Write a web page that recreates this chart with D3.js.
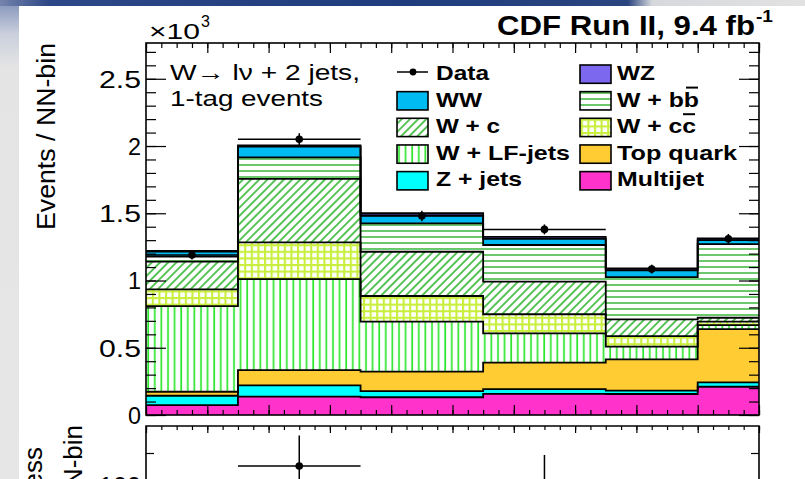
<!DOCTYPE html>
<html><head><meta charset="utf-8">
<script src="https://cdn.jsdelivr.net/npm/d3@7"></script>
<style>
html,body{margin:0;padding:0;background:#fff;}
svg{display:block;font-family:"Liberation Sans",Arial,Helvetica,sans-serif;}
</style></head>
<body>
<svg id="c" width="805" height="479"></svg>
<script>
// ---------------- DATA ----------------
const binEdges = [0, 0.15, 0.35, 0.55, 0.75, 0.9, 1.0];
// events per NN bin (stack bottom -> top)
const multijet = [74, 136, 132, 157, 156, 210];
const zJets    = [69, 84, 46, 36, 25, 33];
const topQuark = [30, 113, 144, 196, 233, 396];
const wLF      = [637, 678, 372, 218, 94, 30];
const wCC      = [124, 273, 191, 142, 79, 25];
const wC       = [206, 471, 329, 242, 124, 29];
const wBB      = [37, 161, 211, 273, 314, 548];
const wwVals   = [38, 79, 60, 46, 50, 29];
const wzVals   = [5, 10, 15, 15, 15, 14];
const dataVals = [1190, 2050, 1480, 1380, 1085, 1310];
// lower panel (excess)
const excessVals = [20, 130, 30, 70, 10, 40];
const excessErr  = [40, 47, 40, 77, 40, 40];

const yTickValues = [0, 500, 1000, 1500, 2000, 2500];
const yTickLabels = ["0", "0.5", "1", "1.5", "2", "2.5"];

const seriesKeys   = ["multijet","zjets","top","wlf","wcc","wc","wbb","ww","wz"];
const seriesLabels = ["Multijet","Z + jets","Top quark","W + LF-jets","W + cc","W + c","W + bb","WW","WZ"];
const seriesArrays = [multijet, zJets, topQuark, wLF, wCC, wC, wBB, wwVals, wzVals];
const seriesFills  = ["#ff33cc","#00ffff","#ffcc33","url(#pV)","url(#pGrid)","url(#pDiag)","url(#pH)","#00bbf2","#7b68ee"];

// legend layout (column-major)
const legendLeft  = ["Data","WW","W + c","W + LF-jets","Z + jets"];
const legendRight = ["WZ","W + bb","W + cc","Top quark","Multijet"];

// ---------------- SETUP ----------------
const svg = d3.select("#c");
const W = 805, H = 479;
const px0 = 146, px1 = 759, py0 = 43, py1 = 415;

const defs = svg.append("defs");
const gTop = defs.append("linearGradient").attr("id","gTop").attr("x1","0").attr("x2","1").attr("y1","0").attr("y2","0");
[["0","#7584ad"],["0.06","#2d4886"],["0.5","#1f3c7c"],["0.78","#2a4580"],["0.81","#d6d8dc"],["1","#e2e2e2"]]
  .forEach(s=>gTop.append("stop").attr("offset",s[0]).attr("stop-color",s[1]));
const gLeft = defs.append("linearGradient").attr("id","gLeft").attr("x1","0").attr("x2","0").attr("y1","0").attr("y2","1");
[["0","#7f90b9"],["0.07","#c9cfdc"],["0.14","#e4e4e4"],["1","#e6e6e6"]]
  .forEach(s=>gLeft.append("stop").attr("offset",s[0]).attr("stop-color",s[1]));

function pat(id, w, h, transform){
  const p = defs.append("pattern").attr("id",id).attr("patternUnits","userSpaceOnUse")
    .attr("width",w).attr("height",h);
  if (transform) p.attr("patternTransform",transform);
  p.append("rect").attr("width",w).attr("height",h).attr("fill","#fff");
  return p;
}
pat("pH",6,6).append("line").attr("x1",0).attr("x2",6).attr("y1",3).attr("y2",3)
  .attr("stroke","#3cb53c").attr("stroke-width",1.5);
pat("pV",6.6,10).append("line").attr("x1",3).attr("x2",3).attr("y1",0).attr("y2",10)
  .attr("stroke","#2ee62e").attr("stroke-width",1.7);
pat("pDiag",5.8,10,"rotate(45)").append("line").attr("x1",2.9).attr("x2",2.9).attr("y1",0).attr("y2",10)
  .attr("stroke","#30b530").attr("stroke-width",1.6);
const pg = pat("pGrid",6.6,6.6);
pg.append("line").attr("x1",0).attr("x2",6.6).attr("y1",1).attr("y2",1).attr("stroke","#c9ef3e").attr("stroke-width",2.2);
pg.append("line").attr("x1",1).attr("x2",1).attr("y1",0).attr("y2",6.6).attr("stroke","#c9ef3e").attr("stroke-width",2.2);

svg.append("rect").attr("width",W).attr("height",H).attr("fill","#fff");
svg.append("rect").attr("x",0).attr("y",0).attr("width",19).attr("height",H).attr("fill","url(#gLeft)");
svg.append("rect").attr("x",0).attr("y",0).attr("width",W).attr("height",6).attr("fill","url(#gTop)");

const x = d3.scaleLinear().domain([0,1]).range([px0,px1]);
const y = d3.scaleLinear().domain([0,2766]).range([py1,py0]);

const rows = binEdges.slice(0,-1).map((e,i)=>{
  const r = {i};
  seriesKeys.forEach((k,j)=>r[k]=seriesArrays[j][i]);
  return r;
});
const stacked = d3.stack().keys(seriesKeys)(rows);
function stepPts(layer){
  const pts = layer.map((d,i)=>({x:binEdges[i], y0:d[0], y1:d[1]}));
  const last = layer[layer.length-1];
  pts.push({x:binEdges[binEdges.length-1], y0:last[0], y1:last[1]});
  return pts;
}
const area = d3.area().curve(d3.curveStepAfter).x(d=>x(d.x)).y0(d=>y(d.y0)).y1(d=>y(d.y1));
const topLine = d3.line().curve(d3.curveStepAfter).x(d=>x(d.x)).y(d=>y(d.y1));

const gStack = svg.append("g");
stacked.forEach((layer,j)=>{
  gStack.append("path").attr("d",area(stepPts(layer))).attr("fill",seriesFills[j]).attr("stroke","none");
});
stacked.forEach((layer,j)=>{
  gStack.append("path").attr("d",topLine(stepPts(layer))).attr("fill","none")
    .attr("stroke","#000").attr("stroke-width",1.8);
});

const gData = svg.append("g");
dataVals.forEach((v,i)=>{
  const xc = x((binEdges[i]+binEdges[i+1])/2);
  const e = Math.sqrt(v);
  gData.append("line").attr("x1",x(binEdges[i])).attr("x2",x(binEdges[i+1])).attr("y1",y(v)).attr("y2",y(v))
    .attr("stroke","#000").attr("stroke-width",1.5);
  gData.append("line").attr("x1",xc).attr("x2",xc).attr("y1",y(v-e)).attr("y2",y(v+e))
    .attr("stroke","#000").attr("stroke-width",1.5);
  gData.append("circle").attr("cx",xc).attr("cy",y(v)).attr("r",3.8).attr("fill","#000");
});

const yMinor = d3.range(0,2766,100);
const xMajor = d3.range(0,1.0001,0.1);
const xMinor = d3.range(0,1.0001,0.025);
function styleAxis(g){ g.select(".domain").remove(); g.selectAll(".tick line").attr("stroke","#000").attr("stroke-width",1.2); }

svg.append("g").attr("transform",`translate(${px0},0)`)
  .call(d3.axisLeft(y).tickValues(yMinor).tickSize(-10).tickFormat("")).call(styleAxis);
const yAx = svg.append("g").attr("transform",`translate(${px0},0)`)
  .call(d3.axisLeft(y).tickValues(yTickValues).tickSize(-20).tickPadding(5)
    .tickFormat((d,i)=>yTickLabels[i])).call(styleAxis);
yAx.selectAll("text").attr("font-size",23).attr("fill","#000").attr("font-family","Liberation Sans, Arial, sans-serif")
  .attr("dy","0.36em")
  .attr("textLength",(d,i)=>yTickLabels[i].length>1?42:13).attr("lengthAdjust","spacingAndGlyphs");
svg.append("g").attr("transform",`translate(${px1},0)`)
  .call(d3.axisRight(y).tickValues(yMinor).tickSize(-10).tickFormat("")).call(styleAxis);
svg.append("g").attr("transform",`translate(${px1},0)`)
  .call(d3.axisRight(y).tickValues(yTickValues).tickSize(-20).tickFormat("")).call(styleAxis);
svg.append("g").attr("transform",`translate(0,${py1})`)
  .call(d3.axisBottom(x).tickValues(xMinor).tickSize(-5).tickFormat("")).call(styleAxis);
svg.append("g").attr("transform",`translate(0,${py1})`)
  .call(d3.axisBottom(x).tickValues(xMajor).tickSize(-10).tickFormat("")).call(styleAxis);
svg.append("g").attr("transform",`translate(0,${py0})`)
  .call(d3.axisTop(x).tickValues(xMinor).tickSize(-5).tickFormat("")).call(styleAxis);
svg.append("g").attr("transform",`translate(0,${py0})`)
  .call(d3.axisTop(x).tickValues(xMajor).tickSize(-10).tickFormat("")).call(styleAxis);

svg.append("rect").attr("x",px0).attr("y",py0).attr("width",px1-px0).attr("height",py1-py0)
  .attr("fill","none").attr("stroke","#000").attr("stroke-width",1.6);

// ---------------- LOWER PANEL ----------------
const ly0 = 426;
const yl = d3.scaleLinear().domain([100,150]).range([485.5,453]);
const gL = svg.append("g");
gL.append("path").attr("d",`M${px0},${H+5}V${ly0}H${px1}V${H+5}`).attr("fill","none")
  .attr("stroke","#000").attr("stroke-width",1.6);
gL.append("g").attr("transform",`translate(0,${ly0})`)
  .call(d3.axisTop(x).tickValues(xMinor).tickSize(-4).tickFormat("")).call(styleAxis);
gL.append("g").attr("transform",`translate(0,${ly0})`)
  .call(d3.axisTop(x).tickValues(xMajor).tickSize(-7).tickFormat("")).call(styleAxis);
const lyAx = gL.append("g").attr("transform",`translate(${px0},0)`)
  .call(d3.axisLeft(yl).tickValues([100]).tickSize(-16).tickPadding(5).tickFormat(d=>d)).call(styleAxis);
lyAx.selectAll("text").attr("font-size",23).attr("fill","#000").attr("font-family","Liberation Sans, Arial, sans-serif")
  .attr("dy","0.36em").attr("textLength",42).attr("lengthAdjust","spacingAndGlyphs");
gL.append("g").attr("transform",`translate(${px0},0)`)
  .call(d3.axisLeft(yl).tickValues([150]).tickSize(-8).tickFormat("")).call(styleAxis);
gL.append("g").attr("transform",`translate(${px1},0)`)
  .call(d3.axisRight(yl).tickValues([150]).tickSize(-8).tickFormat("")).call(styleAxis);
gL.append("g").attr("transform",`translate(${px1},0)`)
  .call(d3.axisRight(yl).tickValues([100]).tickSize(-16).tickFormat("")).call(styleAxis);
excessVals.forEach((v,i)=>{
  const xc = x((binEdges[i]+binEdges[i+1])/2);
  const e = excessErr[i];
  gL.append("line").attr("x1",x(binEdges[i])).attr("x2",x(binEdges[i+1])).attr("y1",yl(v)).attr("y2",yl(v))
    .attr("stroke","#000").attr("stroke-width",1.5);
  gL.append("line").attr("x1",xc).attr("x2",xc).attr("y1",yl(v-e)).attr("y2",yl(v+e))
    .attr("stroke","#000").attr("stroke-width",1.5);
  gL.append("circle").attr("cx",xc).attr("cy",yl(v)).attr("r",3.8).attr("fill","#000");
});
gL.append("text").attr("transform","translate(42,447) rotate(-90)").attr("text-anchor","end")
  .attr("font-size",26).text("Data excess");
gL.append("text").attr("transform","translate(82,425) rotate(-90)").attr("text-anchor","end")
  .attr("font-size",26).text("Events / NN-bin");

// ---------------- TEXT ----------------
svg.append("text").attr("transform","translate(55,43) rotate(-90)").attr("text-anchor","end")
  .attr("font-size",26).attr("textLength",187).attr("lengthAdjust","spacingAndGlyphs").text("Events / NN-bin");
svg.append("text").attr("x",149).attr("y",39).attr("font-size",22).attr("textLength",51)
  .attr("lengthAdjust","spacingAndGlyphs").text("×10");
svg.append("text").attr("x",201).attr("y",27).attr("font-size",16).text("3");
svg.append("text").attr("x",497).attr("y",35).attr("font-size",28).attr("font-weight","bold")
  .attr("textLength",258).attr("lengthAdjust","spacingAndGlyphs").text("CDF Run II, 9.4 fb");
svg.append("text").attr("x",756).attr("y",22).attr("font-size",16).attr("font-weight","bold")
  .attr("textLength",17).attr("lengthAdjust","spacingAndGlyphs").text("-1");
svg.append("text").attr("x",170).attr("y",80).attr("font-size",22.5).attr("textLength",190)
  .attr("lengthAdjust","spacingAndGlyphs").text("W\u2192  l\u03bd + 2 jets,");
svg.append("text").attr("x",170).attr("y",106).attr("font-size",22.5).attr("textLength",153)
  .attr("lengthAdjust","spacingAndGlyphs").text("1-tag events");

// ---------------- LEGEND ----------------
const legWidths = {"Data":53,"WW":46,"W + c":64,"W + LF-jets":134,"Z + jets":86,
                   "WZ":38,"W + bb":82,"W + cc":79,"Top quark":120,"Multijet":87};
const overlined = {"W + bb":true,"W + cc":true};
const gLeg = svg.append("g");
function legendEntry(label, col, row){
  const bx = col===0?397:580, tx = col===0?436:617;
  const top = 65 + row*26.65, base = 80 + row*26.6;
  if (label==="Data"){
    gLeg.append("line").attr("x1",bx).attr("x2",bx+31).attr("y1",top+7).attr("y2",top+7).attr("stroke","#000").attr("stroke-width",1.5);
    gLeg.append("circle").attr("cx",bx+16).attr("cy",top+7).attr("r",3.4).attr("fill","#000");
  } else {
    const j = seriesLabels.indexOf(label);
    gLeg.append("rect").attr("x",bx).attr("y",top).attr("width",31).attr("height",18.3)
      .attr("fill",seriesFills[j]).attr("stroke","#000").attr("stroke-width",1.6);
  }
  gLeg.append("text").attr("x",tx).attr("y",base).attr("font-size",21).attr("font-weight","bold")
    .attr("textLength",legWidths[label]).attr("lengthAdjust","spacingAndGlyphs").text(label);
  if (overlined[label]){
    const xe = tx + legWidths[label];
    gLeg.append("line").attr("x1",xe-13).attr("x2",xe-1).attr("y1",base-19).attr("y2",base-19)
      .attr("stroke","#000").attr("stroke-width",2);
  }
}
legendLeft.forEach((l,i)=>legendEntry(l,0,i));
legendRight.forEach((l,i)=>legendEntry(l,1,i));
</script>
</body></html>
